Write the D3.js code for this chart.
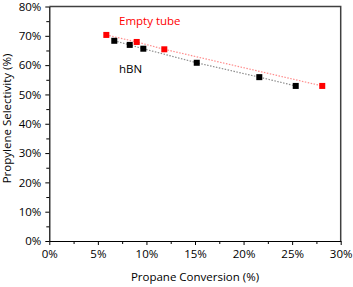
<!DOCTYPE html>
<html lang="en">
<head>
    <meta charset="utf-8" />
    <title>Propylene selectivity vs propane conversion</title>
    <script src="https://d3js.org/d3.v7.min.js"></script>
    <style>
        body { margin: 0; background: #fff; }
        text { font-family: "Open Sans", sans-serif; }
    </style>
</head>
<body>
    <script>
        var w = 353;
        var h = 287;

        // values (percent)
        var emptyConv = [5.87, 9.0, 11.84, 28.1];
        var emptySel = [70.3, 67.9, 65.4, 52.9];
        var hbnConv = [6.69, 8.28, 9.68, 15.18, 21.62, 25.37];
        var hbnSel = [68.3, 66.9, 65.6, 60.8, 55.9, 52.9];
        var xTicks = [0, 5, 10, 15, 20, 25, 30];
        var yTicks = [0, 10, 20, 30, 40, 50, 60, 70, 80];

        var plotL = 49.3, plotR = 340.7, plotT = 6.5, plotB = 241;

        var svg = d3.select("body").append("svg").attr("width", w).attr("height", h);

        var x = d3.scaleLinear().domain([0, 30]).range([plotL, plotR]);
        var y = d3.scaleLinear().domain([0, 80]).range([plotB, plotT]);

        // frame top / right
        svg.append("path")
            .attr("d", "M" + plotL + "," + plotT + "H" + plotR + "V" + plotB)
            .attr("fill", "none").attr("stroke", "#404040").attr("stroke-width", 1.5);

        // minor ticks
        var minorX = d3.range(2.5, 30, 5);
        var minorY = d3.range(5, 80, 10);
        svg.append("g").attr("transform", "translate(0," + plotB + ")")
            .call(d3.axisBottom(x).tickValues(minorX).tickSize(3).tickFormat(""))
            .call(function (g) { g.select(".domain").remove(); });
        svg.append("g").attr("transform", "translate(" + plotL + ",0)")
            .call(d3.axisLeft(y).tickValues(minorY).tickSize(3).tickFormat(""))
            .call(function (g) { g.select(".domain").remove(); });

        // main axes
        svg.append("g").attr("transform", "translate(0," + plotB + ")")
            .call(d3.axisBottom(x).tickValues(xTicks).tickSize(4).tickSizeOuter(0).tickPadding(5)
                .tickFormat(function (d) { return d + "%"; }));
        svg.append("g").attr("transform", "translate(" + plotL + ",0)")
            .call(d3.axisLeft(y).tickValues(yTicks).tickSize(4).tickSizeOuter(0).tickPadding(4)
                .tickFormat(function (d) { return d + "%"; }));
        svg.selectAll(".tick text").attr("font-size", "11.5px").attr("fill", "#000")
            .style("font-family", "'Open Sans', sans-serif");
        svg.selectAll(".domain").attr("stroke", "#000").attr("stroke-width", 1.2);

        // axis titles
        svg.append("text").attr("x", (plotL + plotR) / 2).attr("y", 281)
            .attr("text-anchor", "middle").attr("font-size", "11.5px")
            .text("Propane Conversion (%)");
        svg.append("text")
            .attr("transform", "translate(10.5,118.5) rotate(-90)")
            .attr("text-anchor", "middle").attr("font-size", "11.5px")
            .text("Propylene Selectivity (%)");

        var emptyData = emptyConv.map(function (d, i) { return [d, emptySel[i]]; });
        var hbnData = hbnConv.map(function (d, i) { return [d, hbnSel[i]]; });

        var line = d3.line().x(function (d) { return x(d[0]); }).y(function (d) { return y(d[1]); });

        svg.append("path").datum(emptyData).attr("d", line)
            .attr("fill", "none").attr("stroke", "#ff8c8c").attr("stroke-width", 1.2)
            .attr("stroke-dasharray", "1.5,1.5");
        svg.append("path").datum(hbnData).attr("d", line)
            .attr("fill", "none").attr("stroke", "#8c8c8c").attr("stroke-width", 1.2)
            .attr("stroke-dasharray", "1.5,1.5");

        var s = 6;
        svg.selectAll("rect.empty").data(emptyData).enter().append("rect")
            .attr("class", "empty")
            .attr("x", function (d) { return x(d[0]) - s / 2; })
            .attr("y", function (d) { return y(d[1]) - s / 2; })
            .attr("width", s).attr("height", s)
            .style("fill", "#ff0000");
        svg.selectAll("rect.hbn").data(hbnData).enter().append("rect")
            .attr("class", "hbn")
            .attr("x", function (d) { return x(d[0]) - s / 2; })
            .attr("y", function (d) { return y(d[1]) - s / 2; })
            .attr("width", s).attr("height", s)
            .style("fill", "#000");

        // series labels
        svg.append("text").attr("x", 119).attr("y", 25).attr("font-size", "11.5px")
            .attr("fill", "#ff0000").text("Empty tube");
        svg.append("text").attr("x", 119).attr("y", 73).attr("font-size", "11.5px")
            .attr("fill", "#000").text("hBN");
    </script>
</body>
</html>
